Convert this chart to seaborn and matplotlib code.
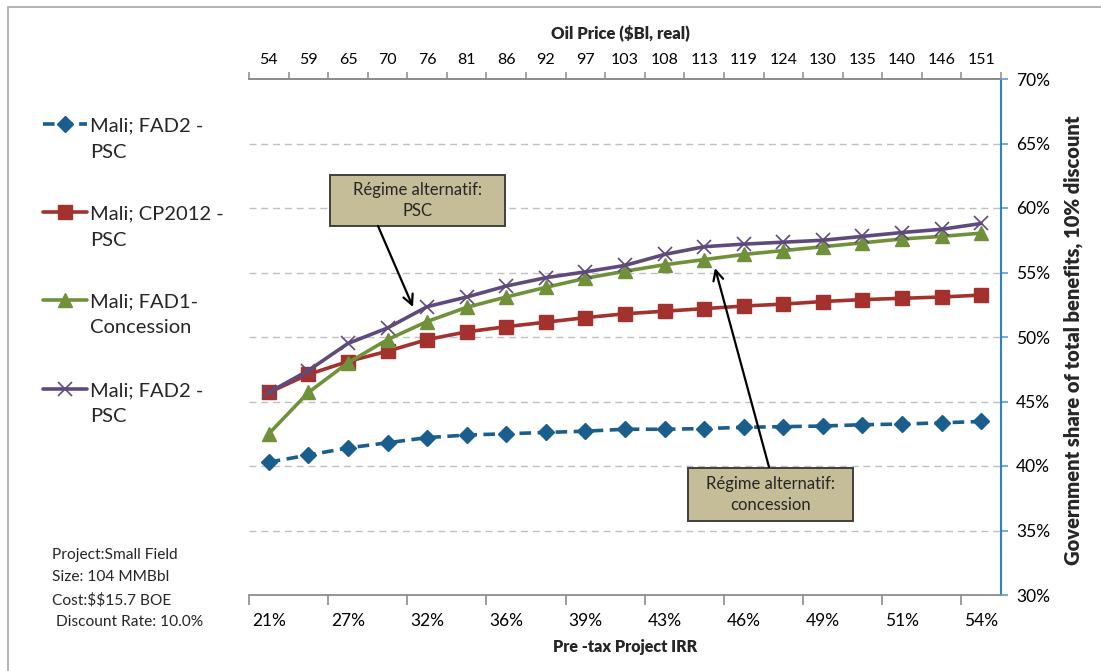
import numpy as np
import pandas as pd
import matplotlib
matplotlib.use("Agg")
import matplotlib.pyplot as plt
from matplotlib.lines import Line2D
from matplotlib.patches import Rectangle
import seaborn as sns

# ---- data -------------------------------------------------------------
oil_price = [54, 59, 65, 70, 76, 81, 86, 92, 97, 103, 108, 113, 119, 124,
             130, 135, 140, 146, 151]
irr_labels = ["21%", "27%", "32%", "36%", "39%", "43%", "46%", "49%",
              "51%", "54%"]  # labelled on every second case

fad2_psc_a = [40.3, 40.85, 41.4, 41.8, 42.2, 42.4, 42.5, 42.6, 42.7, 42.85,
              42.85, 42.9, 43.0, 43.05, 43.1, 43.2, 43.25, 43.35, 43.45]
cp2012_psc = [45.7, 47.1, 48.1, 48.9, 49.8, 50.4, 50.8, 51.15, 51.5, 51.8,
              52.0, 52.2, 52.4, 52.55, 52.75, 52.9, 53.0, 53.1, 53.25]
fad1_conc = [42.5, 45.7, 48.0, 49.8, 51.2, 52.3, 53.1, 53.85, 54.55, 55.1,
             55.6, 56.0, 56.4, 56.7, 57.0, 57.3, 57.6, 57.8, 58.05]
fad2_psc_b = [45.7, 47.4, 49.5, 50.7, 52.35, 53.1, 53.95, 54.6, 55.05, 55.55,
              56.4, 57.0, 57.2, 57.35, 57.5, 57.8, 58.1, 58.35, 58.8]

series_names = ["Mali; FAD2 -\nPSC", "Mali; CP2012 -\nPSC",
                "Mali; FAD1-\nConcession", "Mali; FAD2 -\nPSC"]
series_values = [fad2_psc_a, cp2012_psc, fad1_conc, fad2_psc_b]

notes = ["Project:Small Field", "Size: 104 MMBbl", "Cost:\\$\\$15.7 BOE",
         " Discount Rate: 10.0%"]

# ---- styling ----------------------------------------------------------
sns.set_theme(style="white")
plt.rcParams["font.family"] = ["Lato", "DejaVu Sans"]

styles = [
    dict(color="#1a5e8d", marker="D", markersize=8, linestyle=(0, (3.2, 1.8)),
         mew=1),
    dict(color="#a3322f", marker="s", markersize=9.5, linestyle="-", mew=1),
    dict(color="#70913a", marker="^", markersize=10, linestyle="-", mew=1),
    dict(color="#5f4a7c", marker="x", markersize=10.5, linestyle="-", mew=1.2),
]

W, H = 1101, 671
fig = plt.figure(figsize=(W / 100, H / 100), dpi=100)
fig.patch.set_facecolor("white")

L, R, T, B = 249, 1001, 79, 595
ax = fig.add_axes([L / W, 1 - B / H, (R - L) / W, (B - T) / H])

x = np.arange(len(oil_price))
for vals, st in zip(series_values, styles):
    df = pd.DataFrame({"case": x, "share": vals})
    sns.lineplot(data=df, x="case", y="share", ax=ax, color=st["color"],
                 marker=st["marker"], markersize=st["markersize"],
                 linestyle=st["linestyle"], linewidth=2.6,
                 markeredgecolor=st["color"], markerfacecolor=st["color"],
                 markeredgewidth=st["mew"], legend=False, zorder=3)

ax.set_xlim(-0.5, len(oil_price) - 0.5)
ax.set_ylim(30, 70)

# horizontal grid
for yv in range(35, 70, 5):
    ax.axhline(yv, color="#c0c0c0", lw=1, ls=(0, (5, 3.5)), zorder=1)

# spines
ax.spines["left"].set_visible(False)
ax.spines["bottom"].set_color("#8c8c8c")
ax.spines["bottom"].set_linewidth(1.3)
ax.spines["top"].set_color("#8c8c8c")
ax.spines["top"].set_linewidth(1.3)
ax.spines["right"].set_color("#2e83c6")
ax.spines["right"].set_linewidth(1.5)

# right-hand percent axis
ax.yaxis.tick_right()
ax.set_yticks(range(30, 71, 5))
ax.set_yticklabels([f"{v}%" for v in range(30, 71, 5)])
ax.tick_params(axis="y", which="major", right=True, left=False,
               direction="out", length=5, width=1.2, color="#5b9bd5",
               pad=6, labelsize=12.5, labelcolor="black")
ax.set_ylabel("Government share of total benefits, 10% discount",
              fontsize=14.5, fontweight="heavy", rotation=90)
ax.yaxis.set_label_position("right")
ax.yaxis.set_label_coords((1073 - L) / (R - L), 0.493)
ax.yaxis.label.set_va("center")

# bottom IRR axis
ax.set_xticks(x[::2])
ax.set_xticklabels(irr_labels)
ax.set_xticks(np.arange(-0.5, len(oil_price) - 1, 2), minor=True)
ax.tick_params(axis="x", which="major", bottom=True, length=0, pad=13,
               labelsize=12.5, labelcolor="black")
ax.tick_params(axis="x", which="minor", bottom=True, direction="out",
               length=7, width=1.2, color="#8c8c8c")
ax.set_xlabel("Pre -tax Project IRR", fontsize=11.5, fontweight="heavy")
ax.xaxis.set_label_coords(0.5, -(647 - B) / (B - T))
ax.xaxis.label.set_va("center")

# top oil-price axis
axt = ax.twiny()
axt.set_xlim(ax.get_xlim())
axt.set_xticks(x)
axt.set_xticklabels([str(v) for v in oil_price])
axt.set_xticks(np.arange(-0.5, len(oil_price), 1), minor=True)
axt.tick_params(axis="x", which="major", top=True, length=0, pad=9,
                labelsize=11.5, labelcolor="black")
axt.tick_params(axis="x", which="minor", top=True, direction="out",
                length=5, width=1.1, color="#8c8c8c")
for s in ["left", "right", "bottom"]:
    axt.spines[s].set_visible(False)
axt.spines["top"].set_color("#8c8c8c")
axt.spines["top"].set_linewidth(1.3)
axt.set_xlabel("Oil Price (\\$Bl, real)", fontsize=12, fontweight="heavy")
axt.xaxis.set_label_coords((620 - L) / (R - L), 1 + (T - 33) / (B - T))
axt.xaxis.label.set_va("center")


# annotation boxes with arrows (pixel layout converted to data space)
def px2data(px, py):
    cx = (px - L) / (R - L) * len(oil_price) - 0.5
    cy = 70 - (py - T) / (B - T) * 40
    return cx, cy


def callout(x0, y0, x1, y1, text, tail, head):
    (dx0, dy1) = px2data(x0, y0)
    (dx1, dy0) = px2data(x1, y1)
    ax.add_patch(Rectangle((dx0, dy0), dx1 - dx0, dy1 - dy0,
                           facecolor="#c4bd97", edgecolor="#3f3f3f",
                           lw=1.4, zorder=5))
    ax.text((dx0 + dx1) / 2, (dy0 + dy1) / 2, text, ha="center",
            va="center", fontsize=12, linespacing=1.4, zorder=6)
    ax.annotate("", xy=px2data(*head), xytext=px2data(*tail),
                arrowprops=dict(arrowstyle="->", color="black", lw=1.6,
                                mutation_scale=18, shrinkA=0, shrinkB=0),
                zorder=6)


callout(330, 175, 505, 226, "Régime alternatif:\nPSC", (378, 226), (413, 307))
callout(688, 468, 853, 521, "Régime alternatif:\nconcession",
        (769, 467), (715, 268))

# legend drawn on the left margin
leg_y = [124, 212, 300, 389]
for name, st, ly in zip(series_names, styles, leg_y):
    fy = 1 - ly / H
    fig.add_artist(Line2D([43 / W, 87 / W], [fy, fy], color=st["color"],
                          lw=2.6, linestyle=st["linestyle"]))
    fig.add_artist(Line2D([65 / W], [fy], color=st["color"],
                          marker=st["marker"], markersize=st["markersize"],
                          markeredgecolor=st["color"],
                          markerfacecolor=st["color"],
                          markeredgewidth=st["mew"], lw=0))
    for k, part in enumerate(name.split("\n")):
        fig.text(90 / W, 1 - (ly + 26.5 * k) / H, part, ha="left",
                 va="center_baseline", fontsize=14.5)

# project notes
for i, line in enumerate(notes):
    fig.text(52 / W, 1 - (555 + 22.4 * i) / H, line, ha="left",
             va="center", fontsize=11.2)

# outer frame
fig.add_artist(Rectangle((8 / W, -0.1), 1.2, 1 - 7 / H + 0.1,
                         transform=fig.transFigure, fill=False,
                         edgecolor="#a6a6a6", lw=1.2))

fig.savefig("out.png", dpi=100)
